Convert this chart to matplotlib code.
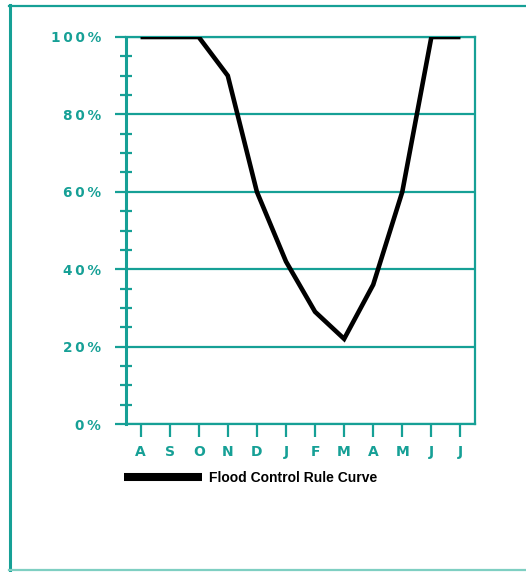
import matplotlib
matplotlib.use("Agg")
import matplotlib.pyplot as plt
from matplotlib.lines import Line2D
from matplotlib.ticker import FixedLocator, FixedFormatter

# monthly flood control rule curve, Aug -> Jul
months = ["A", "S", "O", "N", "D", "J", "F", "M", "A", "M", "J", "J"]
rule_curve = [100, 100, 100, 90, 60, 42, 29, 22, 36, 60, 100, 100]
y_major = [0, 20, 40, 60, 80, 100]
y_labels = ["0%", "20%", "40%", "60%", "80%", "100%"]
y_minor = [5, 10, 15, 25, 30, 35, 45, 50, 55, 65, 70, 75, 85, 90, 95]

TEAL = "#16a096"
W, H = 526, 572


def spaced(s):
    # letter-spaced labels like the original print layout
    return "\u2009".join(s)


fig = plt.figure(figsize=(W / 100, H / 100), dpi=100)
ax = fig.add_axes([126 / W, 1 - 424 / H, (475 - 126) / W, (424 - 37) / H])

x = list(range(len(months)))
ax.plot(x, rule_curve, color="black", lw=3.3, solid_capstyle="butt",
        solid_joinstyle="miter", zorder=3)

ax.set_xlim(-0.5, len(months) - 0.5)
ax.set_ylim(0, 100)

for s in ax.spines.values():
    s.set_color(TEAL)
    s.set_linewidth(1.6)
ax.spines["left"].set_linewidth(2.2)

ax.yaxis.set_major_locator(FixedLocator(y_major))
ax.yaxis.set_major_formatter(FixedFormatter([spaced(l) for l in y_labels]))
ax.yaxis.set_minor_locator(FixedLocator(y_minor))
ax.set_xticks(x)
ax.set_xticklabels(months)

ax.grid(axis="y", which="major", color=TEAL, lw=1.6, zorder=1)
ax.tick_params(axis="y", which="major", direction="out", length=8, width=1.6,
               color=TEAL, labelcolor=TEAL, labelsize=9.8, pad=10)
ax.tick_params(axis="y", which="minor", direction="inout", length=8, width=1.6,
               color=TEAL)
ax.tick_params(axis="x", direction="out", length=9, width=1.6, color=TEAL,
               labelcolor=TEAL, labelsize=10, pad=6)
for lab in ax.get_yticklabels() + ax.get_xticklabels():
    lab.set_fontweight("bold")

handle = Line2D([], [], color="black", lw=5.8, solid_capstyle="butt")
ax.legend([handle], ["Flood Control Rule Curve"], loc="center left",
          bbox_to_anchor=(124 / W, 1 - 478 / H), bbox_transform=fig.transFigure,
          frameon=False, borderpad=0, borderaxespad=0, handlelength=5.6,
          handletextpad=0.55, prop={"family": "Liberation Sans",
                                    "weight": "bold", "size": 10})

# page frame around the figure
fig.add_artist(Line2D([10 / W, 10 / W], [0, 1 - 5 / H], color=TEAL, lw=2.2,
                      transform=fig.transFigure))
fig.add_artist(Line2D([9 / W, 1], [1 - 6 / H, 1 - 6 / H], color=TEAL, lw=1.6,
                      transform=fig.transFigure))
fig.add_artist(Line2D([9 / W, 1], [2 / H, 2 / H], color="#7fcfc2", lw=1.6,
                      transform=fig.transFigure))

fig.savefig("out.png", dpi=100)
